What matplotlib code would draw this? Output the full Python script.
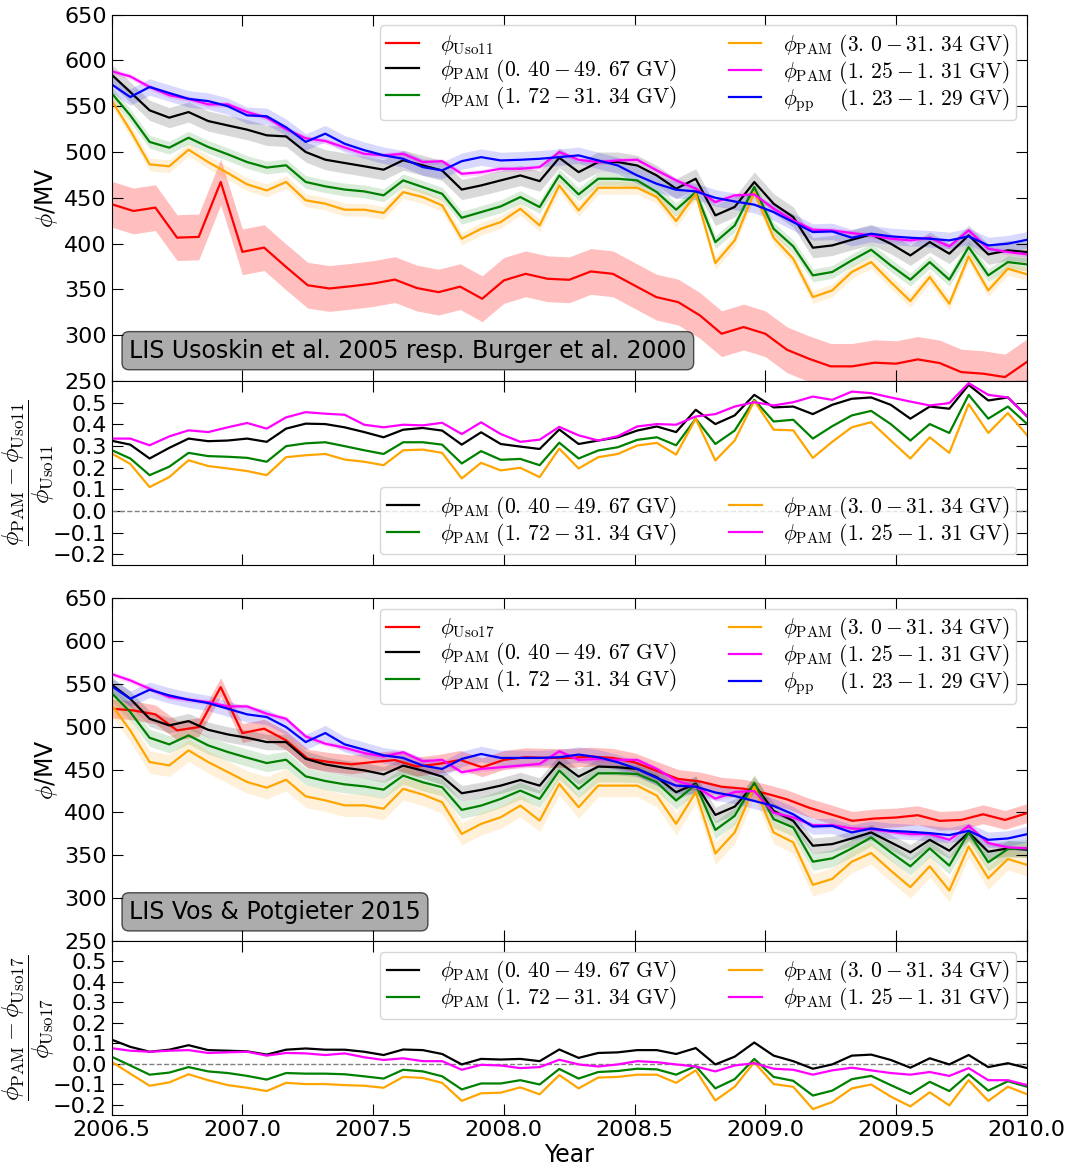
import numpy as np
import matplotlib
matplotlib.use("Agg")
import matplotlib.pyplot as plt

plt.rcParams['mathtext.fontset'] = 'cm'
plt.rcParams['font.family'] = 'DejaVu Sans'
plt.rcParams['xtick.direction'] = 'in'
plt.rcParams['ytick.direction'] = 'in'
plt.rcParams['xtick.top'] = True
plt.rcParams['ytick.right'] = True
plt.rcParams['xtick.major.size'] = 8
plt.rcParams['ytick.major.size'] = 8
plt.rcParams['xtick.labelsize'] = 16
plt.rcParams['ytick.labelsize'] = 16

# ---------- time axes ----------
# Carrington rotations (PAMELA)
t_cr = [2006.496, 2006.571, 2006.645, 2006.720, 2006.794, 2006.869, 2006.944, 2007.018,
        2007.093, 2007.167, 2007.242, 2007.317, 2007.391, 2007.466, 2007.540, 2007.615,
        2007.690, 2007.764, 2007.839, 2007.913, 2007.988, 2008.063, 2008.137, 2008.212,
        2008.286, 2008.361, 2008.436, 2008.510, 2008.585, 2008.659, 2008.734, 2008.809,
        2008.883, 2008.958, 2009.032, 2009.107, 2009.182, 2009.256, 2009.331, 2009.405,
        2009.480, 2009.555, 2009.629, 2009.704, 2009.778, 2009.853, 2009.928, 2010.002]
# monthly (Usoskin)
t_month = [2006.500, 2006.583, 2006.667, 2006.750, 2006.833, 2006.917, 2007.000, 2007.083,
           2007.167, 2007.250, 2007.333, 2007.417, 2007.500, 2007.583, 2007.667, 2007.750,
           2007.833, 2007.917, 2008.000, 2008.083, 2008.167, 2008.250, 2008.333, 2008.417,
           2008.500, 2008.583, 2008.667, 2008.750, 2008.833, 2008.917, 2009.000, 2009.083,
           2009.167, 2009.250, 2009.333, 2009.417, 2009.500, 2009.583, 2009.667, 2009.750,
           2009.833, 2009.917, 2010.000]

# ---------- LIS Usoskin 2005 / Burger 2000 ----------
phi_uso11 = [443.0, 435.6, 439.3, 406.5, 407.3, 467.3, 391.0, 395.6, 374.5, 354.5, 351.0,
             353.5, 356.4, 360.7, 351.5, 347.0, 353.0, 339.8, 359.8, 367.0, 361.6, 360.5,
             369.6, 367.0, 354.3, 341.6, 336.1, 321.6, 301.6, 308.9, 301.6, 284.1, 274.3,
             266.0, 266.0, 270.0, 268.9, 273.6, 269.6, 259.7, 258.0, 254.3, 270.7]
uso11_err = 25.0

a_pam040 = [585.5, 565.5, 545.5, 537.5, 543.6, 533.8, 529.0, 524.4, 518.2, 517.0,
            500.0, 491.6, 488.0, 484.4, 480.7, 491.0, 485.4, 479.8, 459.0, 463.5,
            469.0, 474.4, 468.2, 493.7, 478.0, 489.0, 489.0, 485.3, 474.4, 459.9,
            470.8, 430.8, 440.0, 467.2, 443.5, 429.0, 395.5, 398.0, 404.2, 410.0,
            399.9, 387.1, 401.7, 389.0, 409.0, 388.2, 392.6, 390.8]
a_pam172 = [565.5, 540.0, 511.0, 504.7, 515.6, 505.5, 497.5, 489.0, 483.0, 485.5,
            467.3, 462.5, 459.0, 457.0, 452.7, 469.0, 461.7, 454.4, 428.2, 434.4,
            440.6, 450.8, 439.9, 474.4, 453.7, 470.8, 470.8, 469.0, 456.2, 437.0,
            456.2, 401.6, 419.8, 461.7, 416.2, 397.0, 365.3, 369.0, 381.7, 393.3,
            376.2, 360.6, 379.8, 360.6, 396.2, 365.3, 379.8, 377.3]
a_pam300 = [558.0, 523.6, 486.5, 484.4, 502.5, 489.0, 477.0, 464.7, 458.0, 467.3,
            447.3, 443.6, 437.0, 437.0, 433.5, 456.2, 450.8, 441.7, 405.3, 416.2,
            423.5, 438.0, 419.8, 463.5, 436.2, 461.0, 461.0, 461.0, 450.8, 424.6,
            454.4, 378.7, 403.5, 456.2, 406.4, 383.5, 341.6, 348.9, 369.0, 379.8,
            358.0, 337.3, 363.5, 334.4, 386.0, 348.9, 372.6, 366.4]
a_pam125 = [588.4, 582.5, 571.0, 562.0, 558.0, 552.0, 552.0, 543.6, 537.5, 525.0,
            515.0, 512.0, 505.0, 498.0, 496.4, 498.0, 489.0, 490.0, 476.2, 478.0,
            481.7, 481.7, 483.5, 499.9, 491.5, 489.0, 490.8, 491.5, 479.9, 469.0,
            460.0, 445.3, 452.6, 453.7, 438.1, 425.3, 415.1, 414.4, 411.5, 409.0,
            405.3, 403.5, 406.4, 397.0, 414.4, 394.4, 390.8, 388.2]
a_pp = [574.5, 560.0, 571.0, 564.4, 558.0, 555.6, 550.0, 540.0, 539.0, 527.0,
        511.0, 520.0, 509.0, 502.0, 496.4, 492.6, 483.5, 479.9, 490.0, 494.4,
        490.8, 491.5, 492.6, 494.4, 496.3, 490.8, 485.3, 474.4, 465.3, 458.8,
        457.0, 450.0, 446.0, 442.5, 434.4, 423.5, 412.6, 413.3, 406.4, 410.8,
        407.9, 406.4, 405.3, 403.5, 407.9, 398.0, 399.9, 404.2]

# relative difference to phi_Uso11
ra_pam040 = [0.325, 0.306, 0.242, 0.291, 0.334, 0.322, 0.325, 0.334, 0.319, 0.380,
             0.403, 0.401, 0.386, 0.364, 0.340, 0.375, 0.383, 0.371, 0.306, 0.363,
             0.309, 0.297, 0.286, 0.376, 0.309, 0.325, 0.340, 0.371, 0.390, 0.364,
             0.467, 0.401, 0.441, 0.536, 0.478, 0.482, 0.447, 0.490, 0.518, 0.524,
             0.490, 0.426, 0.482, 0.472, 0.582, 0.510, 0.524, 0.436]
ra_pam172 = [0.283, 0.242, 0.165, 0.204, 0.268, 0.253, 0.250, 0.245, 0.227, 0.299,
             0.312, 0.317, 0.299, 0.280, 0.263, 0.317, 0.317, 0.306, 0.219, 0.276,
             0.236, 0.240, 0.211, 0.315, 0.242, 0.279, 0.294, 0.328, 0.340, 0.303,
             0.426, 0.309, 0.371, 0.513, 0.413, 0.421, 0.334, 0.391, 0.441, 0.462,
             0.401, 0.325, 0.401, 0.360, 0.536, 0.426, 0.482, 0.401]
ra_pam300 = [0.268, 0.217, 0.110, 0.156, 0.234, 0.207, 0.196, 0.184, 0.165, 0.248,
             0.257, 0.263, 0.237, 0.227, 0.211, 0.280, 0.283, 0.268, 0.150, 0.222,
             0.187, 0.199, 0.156, 0.288, 0.196, 0.248, 0.263, 0.302, 0.314, 0.260,
             0.426, 0.233, 0.325, 0.508, 0.375, 0.372, 0.245, 0.319, 0.386, 0.410,
             0.325, 0.242, 0.340, 0.268, 0.493, 0.360, 0.452, 0.349]
ra_pam125 = [0.334, 0.334, 0.303, 0.344, 0.372, 0.364, 0.386, 0.406, 0.380, 0.432,
             0.456, 0.449, 0.444, 0.398, 0.386, 0.398, 0.395, 0.407, 0.355, 0.409,
             0.355, 0.319, 0.329, 0.388, 0.349, 0.325, 0.345, 0.390, 0.401, 0.398,
             0.436, 0.447, 0.482, 0.502, 0.487, 0.502, 0.528, 0.513, 0.551, 0.544,
             0.524, 0.505, 0.487, 0.498, 0.590, 0.536, 0.524, 0.436]

# ---------- LIS Vos & Potgieter 2015 ----------
phi_uso17 = [520.9, 518.9, 514.3, 495.6, 499.5, 546.1, 492.5, 497.6, 484.0, 462.6, 458.7,
             456.0, 458.7, 461.0, 453.5, 456.5, 461.2, 452.6, 461.2, 464.3, 463.5, 463.5,
             465.0, 463.5, 458.4, 448.7, 439.0, 436.0, 429.9, 427.6, 422.2, 415.2, 405.5,
             397.8, 390.1, 392.8, 394.0, 396.7, 390.1, 391.2, 397.8, 391.2, 399.0]
uso17_err = 11.0

b_pam040 = [550.0, 532.5, 509.2, 501.4, 506.4, 496.3, 490.9, 487.0, 482.0, 482.0,
            462.5, 455.9, 452.0, 449.0, 444.3, 454.5, 448.7, 441.7, 422.3, 426.2,
            431.2, 437.8, 431.2, 458.4, 441.7, 453.4, 452.6, 450.7, 441.0, 423.5,
            433.5, 397.0, 406.7, 432.6, 401.7, 390.1, 361.1, 363.0, 369.6, 376.6,
            365.0, 353.4, 368.0, 355.3, 376.6, 354.1, 358.0, 356.5]
b_pam172 = [540.3, 517.0, 487.0, 479.3, 489.8, 478.1, 470.4, 463.8, 457.5, 461.4,
            442.0, 436.6, 432.7, 430.3, 426.5, 442.9, 435.1, 429.3, 402.9, 407.9,
            415.7, 425.4, 415.7, 448.7, 427.4, 445.6, 445.6, 444.8, 435.1, 413.8,
            432.4, 379.5, 395.9, 434.5, 392.0, 382.4, 342.5, 346.4, 358.0, 370.8,
            353.4, 337.1, 358.0, 337.9, 376.6, 341.8, 357.2, 358.0]
b_pam300 = [526.7, 495.6, 458.7, 454.8, 472.3, 458.7, 447.0, 435.4, 428.8, 438.1,
            418.7, 414.0, 408.2, 408.2, 404.3, 427.4, 420.8, 411.8, 374.9, 386.6,
            394.3, 407.9, 390.4, 433.2, 406.0, 431.2, 431.2, 431.2, 419.6, 386.6,
            423.5, 352.0, 376.6, 429.9, 376.6, 365.0, 315.5, 322.4, 342.5, 352.6,
            332.1, 312.8, 337.1, 308.9, 360.3, 323.2, 345.6, 338.7]
b_pam125 = [561.7, 553.9, 544.2, 534.5, 531.4, 528.6, 523.6, 523.6, 515.0, 509.2,
            488.6, 480.1, 475.4, 469.2, 465.3, 470.1, 459.6, 461.2, 446.8, 450.7,
            452.6, 454.5, 456.5, 471.3, 461.2, 462.3, 461.2, 461.2, 450.7, 437.1,
            430.0, 416.0, 423.7, 424.9, 399.7, 394.0, 385.0, 385.0, 381.2, 380.4,
            377.3, 374.6, 374.6, 368.0, 384.3, 364.2, 359.2, 358.0]
b_pp = [548.0, 532.5, 543.0, 536.4, 531.4, 527.5, 520.9, 514.3, 511.2, 499.5,
        482.0, 492.5, 479.3, 473.1, 466.5, 463.5, 454.5, 450.7, 462.3, 468.1,
        463.5, 463.5, 463.5, 464.3, 467.4, 464.3, 458.4, 450.7, 440.2, 431.2,
        430.0, 423.2, 419.1, 413.3, 407.5, 397.8, 383.5, 384.3, 376.6, 381.2,
        378.5, 377.3, 375.8, 373.5, 378.5, 368.0, 369.6, 374.6]

# relative difference to phi_Uso17
rb_pam040 = [0.120, 0.083, 0.059, 0.069, 0.091, 0.067, 0.064, 0.061, 0.045, 0.069,
             0.075, 0.069, 0.069, 0.059, 0.043, 0.070, 0.067, 0.048, -0.003, 0.024,
             0.021, 0.024, 0.013, 0.070, 0.029, 0.053, 0.056, 0.067, 0.067, 0.048,
             0.077, -0.003, 0.035, 0.104, 0.040, 0.013, -0.024, -0.003, 0.040, 0.045,
             0.019, -0.019, 0.027, -0.003, 0.043, -0.016, 0.003, -0.021]
rb_pam172 = [0.037, -0.008, -0.053, -0.043, -0.016, -0.037, -0.045, -0.059, -0.077, -0.045,
             -0.048, -0.048, -0.051, -0.061, -0.072, -0.029, -0.037, -0.061, -0.125, -0.096,
             -0.096, -0.080, -0.101, -0.025, -0.072, -0.040, -0.035, -0.024, -0.027, -0.053,
             -0.011, -0.120, -0.075, 0.024, -0.064, -0.083, -0.155, -0.131, -0.075, -0.059,
             -0.104, -0.147, -0.088, -0.133, -0.051, -0.131, -0.085, -0.112]
rb_pam300 = [0.013, -0.048, -0.107, -0.091, -0.051, -0.080, -0.104, -0.117, -0.133, -0.093,
             -0.099, -0.099, -0.104, -0.107, -0.117, -0.064, -0.069, -0.093, -0.181, -0.144,
             -0.141, -0.115, -0.149, -0.055, -0.120, -0.067, -0.064, -0.053, -0.053, -0.093,
             -0.032, -0.179, -0.112, 0.008, -0.099, -0.112, -0.221, -0.187, -0.120, -0.101,
             -0.160, -0.208, -0.139, -0.203, -0.080, -0.181, -0.112, -0.149]
rb_pam125 = [0.077, 0.064, 0.059, 0.064, 0.067, 0.053, 0.056, 0.059, 0.040, 0.053,
             0.051, 0.043, 0.051, 0.032, 0.019, 0.027, 0.013, 0.013, -0.029, -0.005,
             -0.008, -0.021, -0.016, 0.020, -0.003, -0.013, -0.003, 0.013, 0.008, -0.003,
             -0.013, -0.037, -0.008, 0.003, -0.024, -0.029, -0.053, -0.032, -0.019, -0.032,
             -0.045, -0.053, -0.040, -0.059, -0.021, -0.080, -0.080, -0.104]

# band half widths (MV) per PAMELA series: 0.40, 1.72, 3.0, 1.25, pp
band_a = [11.0, 7.0, 7.0, 3.0, 9.0]
band_b = [9.0, 10.0, 13.0, 3.0, 9.0]

lab_040 = r'$\phi_{\rm PAM}\ (0.\,40-49.\,67\ {\rm GV})$'
lab_172 = r'$\phi_{\rm PAM}\ (1.\,72-31.\,34\ {\rm GV})$'
lab_300 = r'$\phi_{\rm PAM}\ (3.\,0-31.\,34\ {\rm GV})$'
lab_125 = r'$\phi_{\rm PAM}\ (1.\,25-1.\,31\ {\rm GV})$'
lab_pp = r'$\phi_{\rm pp}\quad\ (1.\,23-1.\,29\ {\rm GV})$'
colors = ['k', 'g', 'orange', 'magenta', 'b']

W, H = 1068, 1167
fig = plt.figure(figsize=(W / 100, H / 100), dpi=100)

leg_kw = dict(ncol=2, fontsize=15.5, fancybox=True, handlelength=1.5,
              handletextpad=1.0, labelspacing=0.0, columnspacing=2.4,
              borderpad=0.3)


def px_axes(top, bottom):
    left, right = 111.7, 1026.7
    return fig.add_axes([left / W, 1 - bottom / H, (right - left) / W, (bottom - top) / H])


def main_panel(ax, phi_uso, uso_err, uso_name, series, bands, lis_text):
    t = np.array(t_cr)
    um = np.array(phi_uso)
    ax.fill_between(t_month, um - uso_err, um + uso_err, color='r', alpha=0.25, lw=0)
    ax.plot(t_month, phi_uso, color='r', lw=1.6,
            label=r'$\phi_{\rm %s}$' % uso_name)
    labels = [lab_040, lab_172, lab_300, lab_125, lab_pp]
    for vals, err, c, lab in zip(series, bands, colors, labels):
        v = np.array(vals)
        ax.fill_between(t, v - err, v + err, color=c, alpha=0.15, lw=0)
        ax.plot(t, v, color=c, lw=1.6, label=lab)
    ax.set_ylim(250, 650)
    ax.set_yticks(range(250, 651, 50))
    ax.set_ylabel(r'$\phi$/MV', fontsize=17)
    ax.yaxis.set_label_coords(-0.057, 0.5)
    ax.legend(loc='upper right', **leg_kw)
    ax.text(0.019, 0.05, lis_text, transform=ax.transAxes, fontsize=17,
            ha='left', va='bottom',
            bbox=dict(boxstyle='round,pad=0.3', facecolor='gray', alpha=0.65,
                      edgecolor='k'))


def ratio_panel(ax, series, uso_name, loc, top, bottom):
    labels = [lab_040, lab_172, lab_300, lab_125]
    ax.axhline(0.0, color='gray', ls='--', lw=1.0)
    for vals, c, lab in zip(series, colors[:4], labels):
        ax.plot(t_cr, vals, color=c, lw=1.6, label=lab)
    ax.set_ylim(-0.25, 0.6)
    ax.set_yticks([-0.2, -0.1, 0.0, 0.1, 0.2, 0.3, 0.4, 0.5])
    # y label as a stacked fraction, centred left of the tick labels
    fig.text(29 / W, 1 - 0.5 * (top + bottom) / H,
             r'$\dfrac{\phi_{\rm PAM}-\phi_{\rm %s}}{\phi_{\rm %s}}$' % (uso_name, uso_name),
             rotation=90, ha='center', va='center', fontsize=17.5)
    ax.legend(loc=loc, **leg_kw)


ax1 = px_axes(14.6, 381.0)
ax2 = px_axes(381.0, 565.0)
ax3 = px_axes(598.0, 941.0)
ax4 = px_axes(941.0, 1115.0)

main_panel(ax1, phi_uso11, uso11_err, 'Uso11',
           [a_pam040, a_pam172, a_pam300, a_pam125, a_pp], band_a,
           'LIS Usoskin et al. 2005 resp. Burger et al. 2000')
ratio_panel(ax2, [ra_pam040, ra_pam172, ra_pam300, ra_pam125], 'Uso11', 'lower right',
            381.0, 565.0)
main_panel(ax3, phi_uso17, uso17_err, 'Uso17',
           [b_pam040, b_pam172, b_pam300, b_pam125, b_pp], band_b,
           'LIS Vos & Potgieter 2015')
ratio_panel(ax4, [rb_pam040, rb_pam172, rb_pam300, rb_pam125], 'Uso17', 'upper right',
            941.0, 1115.0)

for ax in (ax1, ax2, ax3, ax4):
    ax.set_xlim(2006.5, 2010.0)
    ax.set_xticks([2006.5, 2007.0, 2007.5, 2008.0, 2008.5, 2009.0, 2009.5, 2010.0])
    if ax is not ax4:
        ax.tick_params(labelbottom=False)
ax4.xaxis.set_major_formatter(matplotlib.ticker.FormatStrFormatter('%.1f'))
ax4.set_xlabel('Year', fontsize=17, labelpad=2)

fig.savefig('out.png', dpi=100)
